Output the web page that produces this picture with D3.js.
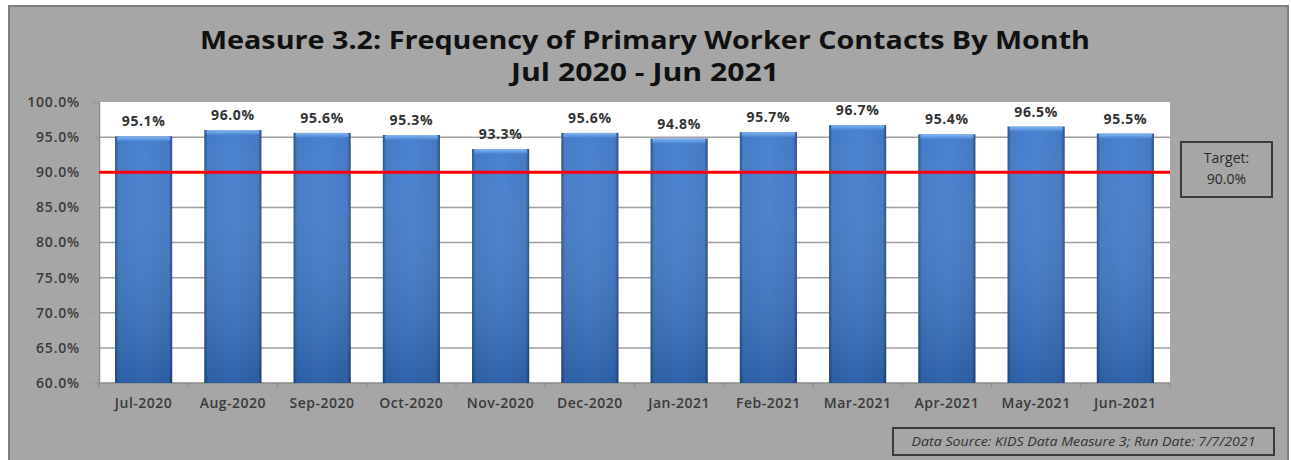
<!DOCTYPE html>
<html>
<head>
<meta charset="utf-8">
<script src="https://cdn.jsdelivr.net/npm/d3@7"></script>
<style>
  html, body { margin: 0; padding: 0; background: #ffffff; }
  svg { display: block; }
  text { font-family: "Open Sans", "Liberation Sans", sans-serif; }
</style>
</head>
<body>
<svg id="chart" width="1291" height="460"></svg>
<script>
// Monthly contact rates (percent)
const months = ["Jul-2020","Aug-2020","Sep-2020","Oct-2020","Nov-2020","Dec-2020",
                "Jan-2021","Feb-2021","Mar-2021","Apr-2021","May-2021","Jun-2021"];
const rates = [95.1, 96.0, 95.6, 95.3, 93.3, 95.6, 94.8, 95.7, 96.7, 95.4, 96.5, 95.5];
const target = 90.0;
const yTicks = [60, 65, 70, 75, 80, 85, 90, 95, 100];
const titleLines = ["Measure 3.2: Frequency of Primary Worker Contacts By Month", "Jul 2020 - Jun 2021"];
const sourceNote = "Data Source: KIDS Data Measure 3; Run Date: 7/7/2021";

const svg = d3.select("#chart");

// Outer chart frame
svg.append("rect").attr("x", 9).attr("y", 6).attr("width", 1279).attr("height", 460)
  .attr("fill", "#a6a6a6").attr("stroke", "#7f7f7f").attr("stroke-width", 2);

const plot = { left: 99, right: 1170, top: 102, bottom: 383 };

const x = d3.scaleBand().domain(months).range([plot.left, plot.right]).paddingInner(0.36).paddingOuter(0.18);
const y = d3.scaleLinear().domain([60, 100]).range([plot.bottom, plot.top]);

// Plot area
svg.append("rect").attr("x", plot.left).attr("y", plot.top)
  .attr("width", plot.right - plot.left).attr("height", plot.bottom - plot.top)
  .attr("fill", "#ffffff");

// Gridlines
svg.append("g").selectAll("line").data(yTicks.filter(d => d > 60 && d < 100)).join("line")
  .attr("x1", plot.left).attr("x2", plot.right)
  .attr("y1", d => y(d)).attr("y2", d => y(d))
  .attr("stroke", "#a0a0a0").attr("stroke-width", 1.5);

// Y axis
const yAxis = d3.axisLeft(y).tickValues(yTicks).tickFormat(d => d3.format(".1f")(d) + "%").tickSize(8).tickPadding(11);
const yg = svg.append("g").attr("transform", `translate(${plot.left},0)`).call(yAxis);
yg.select(".domain").attr("stroke", "#8c8c8c").attr("stroke-width", 1.5);
yg.selectAll(".tick line").attr("stroke", "#a0a0a0").attr("stroke-width", 1.5);
yg.selectAll(".tick text").attr("fill", "#3a3a3a").attr("font-size", 14).attr("font-weight", 600)
  .attr("letter-spacing", "0.8px");

// X axis with ticks at category boundaries
const xg = svg.append("g").attr("transform", `translate(0,${plot.bottom})`);
xg.append("line").attr("x1", plot.left).attr("x2", plot.right).attr("y1", 0).attr("y2", 0)
  .attr("stroke", "#8c8c8c").attr("stroke-width", 1.5);
const bounds = d3.range(months.length + 1).map(i => plot.left + (plot.right - plot.left) * i / months.length);
xg.selectAll("line.tk").data(bounds).join("line").attr("class", "tk")
  .attr("x1", d => d).attr("x2", d => d).attr("y1", 0).attr("y2", 5)
  .attr("stroke", "#8c8c8c");
xg.selectAll("text").data(months).join("text")
  .attr("x", d => x(d) + x.bandwidth() / 2).attr("y", 25)
  .attr("text-anchor", "middle").attr("fill", "#3a3a3a")
  .attr("font-size", 14).attr("font-weight", 600).attr("letter-spacing", "0.5px").text(d => d);

// Bar gradients
const defs = svg.append("defs");
const hg = defs.append("linearGradient").attr("id", "barH").attr("x1", 0).attr("x2", 1).attr("y1", 0).attr("y2", 0);
hg.append("stop").attr("offset", "0%").attr("stop-color", "#1f4780");
hg.append("stop").attr("offset", "6%").attr("stop-color", "#3a74c2");
hg.append("stop").attr("offset", "50%").attr("stop-color", "#3f7cce");
hg.append("stop").attr("offset", "94%").attr("stop-color", "#3a72bf");
hg.append("stop").attr("offset", "100%").attr("stop-color", "#1c4279");
const vg = defs.append("linearGradient").attr("id", "barV").attr("x1", 0).attr("x2", 0).attr("y1", 0).attr("y2", 1);
vg.append("stop").attr("offset", "0%").attr("stop-color", "#ffffff").attr("stop-opacity", 0.05);
vg.append("stop").attr("offset", "100%").attr("stop-color", "#0b2a5a").attr("stop-opacity", 0.3);
const tg = defs.append("linearGradient").attr("id", "barTop").attr("x1", 0).attr("x2", 0).attr("y1", 0).attr("y2", 1);
tg.append("stop").attr("offset", "0%").attr("stop-color", "#86b6f0");
tg.append("stop").attr("offset", "100%").attr("stop-color", "#4683d2");

const bars = svg.append("g").selectAll("g").data(months.map((m, i) => ({ m, v: rates[i] }))).join("g");
bars.append("rect")
  .attr("x", d => x(d.m)).attr("y", d => y(d.v))
  .attr("width", x.bandwidth()).attr("height", d => plot.bottom - y(d.v))
  .attr("fill", "url(#barH)");
bars.append("rect")
  .attr("x", d => x(d.m)).attr("y", d => y(d.v))
  .attr("width", x.bandwidth()).attr("height", d => plot.bottom - y(d.v))
  .attr("fill", "url(#barV)");
bars.append("rect")
  .attr("x", d => x(d.m) + 2).attr("y", d => y(d.v))
  .attr("width", x.bandwidth() - 4).attr("height", 5).attr("rx", 2)
  .attr("fill", "url(#barTop)");

// Value labels
bars.append("text")
  .attr("x", d => x(d.m) + x.bandwidth() / 2).attr("y", d => y(d.v) - 10)
  .attr("text-anchor", "middle").attr("fill", "#333333")
  .attr("font-size", 14).attr("font-weight", 700).attr("letter-spacing", "0.6px")
  .text(d => d3.format(".1f")(d.v) + "%");

// Target line
svg.append("line").attr("x1", plot.left).attr("x2", plot.right)
  .attr("y1", y(target)).attr("y2", y(target))
  .attr("stroke", "#ff0000").attr("stroke-width", 3);

// Target box
const tb = svg.append("g");
tb.append("rect").attr("x", 1181).attr("y", 142).attr("width", 91).attr("height", 55)
  .attr("fill", "#a6a6a6").attr("stroke", "#3a3a3a").attr("stroke-width", 2);
tb.append("text").attr("x", 1226.5).attr("y", 163).attr("text-anchor", "middle")
  .attr("font-size", 14).attr("font-weight", 500).attr("fill", "#2a2a2a").text("Target:");
tb.append("text").attr("x", 1226.5).attr("y", 184).attr("text-anchor", "middle")
  .attr("font-size", 14).attr("font-weight", 500).attr("fill", "#2a2a2a").text(d3.format(".1f")(target) + "%");

// Title
svg.append("g").selectAll("text").data(titleLines).join("text")
  .attr("x", 645).attr("y", (d, i) => 49 + i * 32)
  .attr("text-anchor", "middle").attr("fill", "#111111")
  .attr("font-size", 25).attr("font-weight", 700)
  .attr("textLength", (d, i) => i === 0 ? 890 : 268).attr("lengthAdjust", "spacingAndGlyphs")
  .text(d => d);

// Source note
const sn = svg.append("g");
sn.append("rect").attr("x", 893).attr("y", 428).attr("width", 381).attr("height", 27)
  .attr("fill", "#a6a6a6").attr("stroke", "#3a3a3a").attr("stroke-width", 2);
sn.append("text").attr("x", 1083.5).attr("y", 446).attr("text-anchor", "middle")
  .attr("font-size", 12).attr("font-style", "italic").attr("fill", "#333333")
  .attr("textLength", 344).attr("lengthAdjust", "spacingAndGlyphs").text(sourceNote);
</script>
</body>
</html>
